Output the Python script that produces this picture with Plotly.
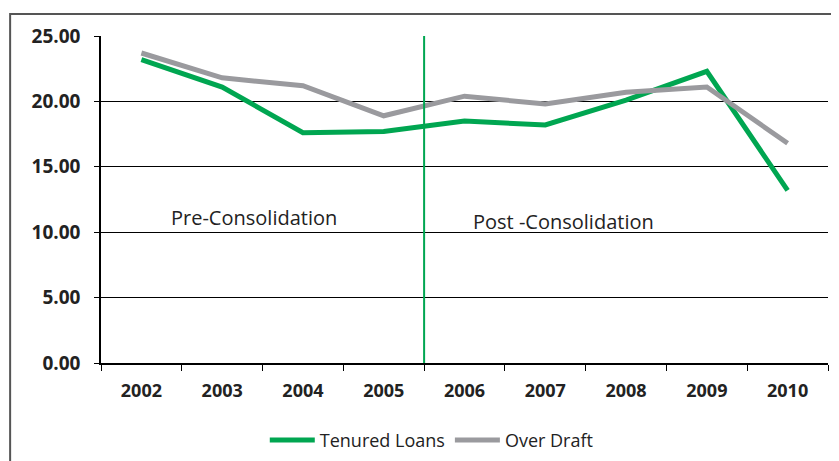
import plotly.graph_objects as go

years = ["2002", "2003", "2004", "2005", "2006", "2007", "2008", "2009", "2010"]
tenured_loans = [23.2, 21.1, 17.6, 17.7, 18.5, 18.2, 20.1, 22.3, 13.2]
over_draft = [23.7, 21.8, 21.2, 18.9, 20.4, 19.8, 20.7, 21.1, 16.8]
y_ticks = [0, 5, 10, 15, 20, 25]

GREEN = "#00a651"
GREY = "#9a9a9e"
FONT = "'Open Sans', sans-serif"

fig = go.Figure()
fig.add_trace(go.Scatter(x=years, y=tenured_loans, mode="lines", name="Tenured Loans",
                         line=dict(color=GREEN, width=5)))
fig.add_trace(go.Scatter(x=years, y=over_draft, mode="lines", name="Over Draft",
                         line=dict(color=GREY, width=5)))

# divider between pre and post consolidation
fig.add_shape(type="line", xref="x", yref="y", x0=3.5, x1=3.5, y0=0, y1=25,
              line=dict(color=GREEN, width=2))
# outer frame
fig.add_shape(type="rect", xref="paper", yref="paper", x0=-0.125, x1=1.2, y0=-0.4, y1=1.067,
              line=dict(color="#555555", width=2), layer="below")

fig.add_annotation(x=1.39, y=11.1, xref="x", yref="y", text="Pre-Consolidation", showarrow=False,
                   yanchor="middle", font=dict(size=20, color="#222222", family=FONT))
fig.add_annotation(x=5.22, y=10.8, xref="x", yref="y", text="Post -Consolidation", showarrow=False,
                   yanchor="middle", font=dict(size=20, color="#222222", family=FONT))

fig.update_layout(
    width=831, height=453,
    margin=dict(l=93, r=11, t=28, b=98, autoexpand=False),
    plot_bgcolor="white", paper_bgcolor="white",
    font=dict(family=FONT, color="#222222", size=17),
    showlegend=True,
    legend=dict(orientation="h", x=0.455, xanchor="center", y=-0.18, yanchor="top",
                itemwidth=45, font=dict(size=18), bgcolor="rgba(0,0,0,0)"),
    xaxis=dict(type="category", tickson="boundaries", ticks="outside", ticklen=6,
               tickcolor="black", showline=True, linecolor="black", linewidth=1.5,
               showgrid=False, tickfont=dict(size=18, family=FONT, weight="bold"),
               automargin=False, ticklabelstandoff=11, range=[-0.5, 8.5]),
    yaxis=dict(range=[0, 25], tickvals=y_ticks, tickformat=".2f", ticks="outside",
               ticklen=5, tickcolor="black", showline=True, linecolor="black",
               linewidth=1.5, gridcolor="black", gridwidth=1, zeroline=False,
               automargin=False, ticklabelstandoff=10,
               tickfont=dict(size=19, family=FONT, weight="bold")),
)

fig.write_html("out.html")
